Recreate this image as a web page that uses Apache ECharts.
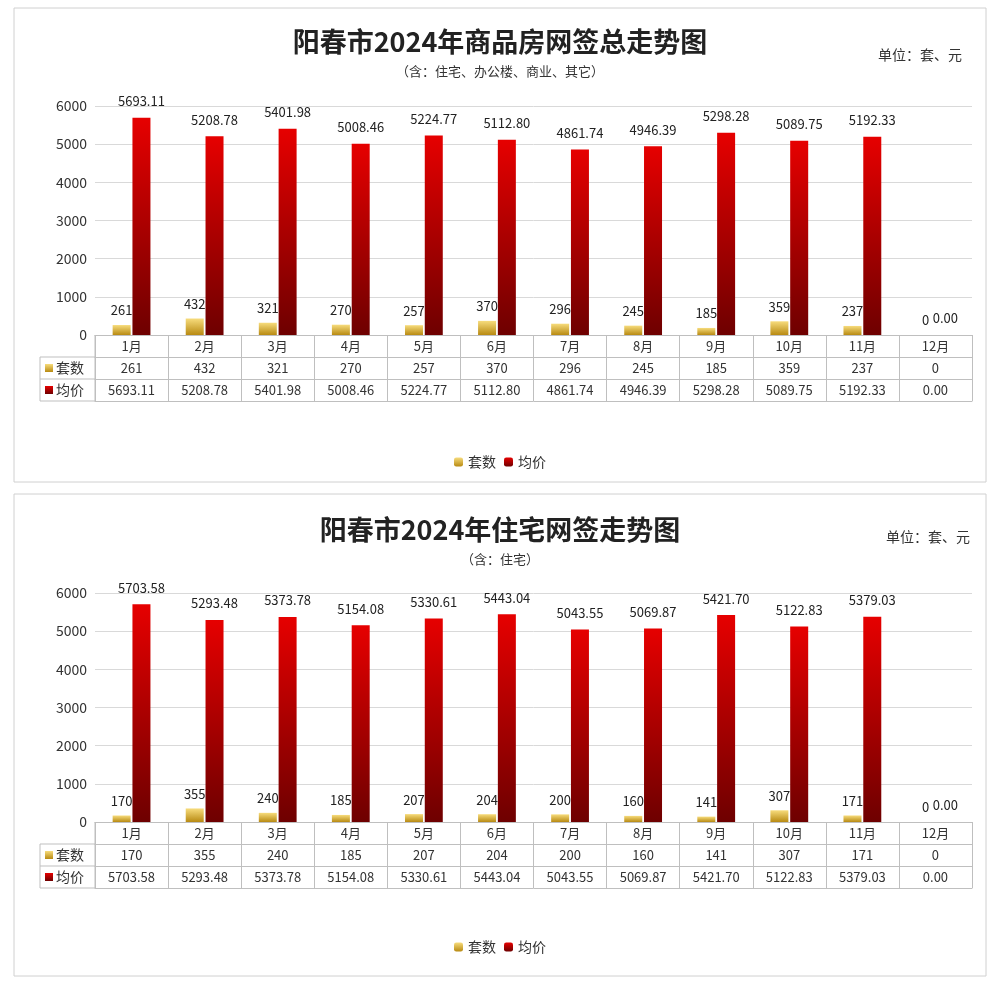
<!DOCTYPE html>
<html><head><meta charset="utf-8">
<script src="https://cdn.jsdelivr.net/npm/echarts@6/dist/echarts.min.js"></script>
<style>html,body{margin:0;padding:0;background:#fff}#c{width:1000px;height:982px}</style>
</head><body><div id="c"></div>
<script>
const months = ['1月','2月','3月','4月','5月','6月','7月','8月','9月','10月','11月','12月'];
const countAll = [261,432,321,270,257,370,296,245,185,359,237,0];
const priceAll = [5693.11,5208.78,5401.98,5008.46,5224.77,5112.80,4861.74,4946.39,5298.28,5089.75,5192.33,0];
const countRes = [170,355,240,185,207,204,200,160,141,307,171,0];
const priceRes = [5703.58,5293.48,5373.78,5154.08,5330.61,5443.04,5043.55,5069.87,5421.70,5122.83,5379.03,0];
const yTicks = [0,1000,2000,3000,4000,5000,6000];

const gold = {type:'linear',x:0,y:0,x2:0,y2:1,colorStops:[{offset:0,color:'#f7dc7c'},{offset:1,color:'#b88a12'}]};
const red = {type:'linear',x:0,y:0,x2:0,y2:1,colorStops:[{offset:0,color:'#e60000'},{offset:1,color:'#6e0000'}]};
const F = 'Microsoft YaHei, "Noto Sans CJK SC", sans-serif';
const tableColor = '#bfbfbf';

function tableAxes(gi, rows) {
  const axes = [];
  rows.forEach((data, i) => {
    axes.push({
      type:'category', gridIndex:gi, data:data, position:'bottom', offset:i*22,
      axisLine:{show:true,lineStyle:{color:tableColor}},
      axisTick:{show:true,length:22,lineStyle:{color:tableColor}},
      axisLabel:{show:true,color:'#333',fontSize:13,fontFamily:F,margin:5,interval:0},
      splitLine:{show:false}
    });
  });
  axes.push({
    type:'category', gridIndex:gi, data:months, position:'bottom', offset:rows.length*22,
    axisLine:{show:true,lineStyle:{color:tableColor}}, axisTick:{show:false}, axisLabel:{show:false}
  });
  return axes;
}
const fmt2 = a => a.map(v => v.toFixed(2));
const x1 = tableAxes(0, [months, countAll.map(String), fmt2(priceAll)]);
const x2 = tableAxes(1, [months, countRes.map(String), fmt2(priceRes)]);

function yAxis(gi){
  return {type:'value',gridIndex:gi,min:0,max:6000,interval:1000,
    axisLabel:{color:'#333',fontSize:14,fontFamily:F,formatter:v=>yTicks.includes(v)?String(v):''},
    axisLine:{show:false},axisTick:{show:false},
    splitLine:{lineStyle:{color:'#d9d9d9'}}};
}
function barSeries(name, data, xi, yi, color, isPrice){
  return {name, type:'bar', xAxisIndex:xi, yAxisIndex:yi, data, barWidth:18, barGap:'10%',
    itemStyle:{color},
    label:{show:true,position:'top',color:'#222',fontSize:13,fontFamily:F,distance:isPrice?10:8,
      formatter:p=>isPrice?p.value.toFixed(2):String(p.value)}};
}

const chart = echarts.init(document.getElementById('c'));
chart.setOption({
  animation:false,
  grid:[{left:95,right:28,top:106,height:229},{left:95,right:28,top:593,height:229}],
  xAxis:[...x1,...x2],
  yAxis:[yAxis(0),yAxis(1)],
  legend:[
    {top:450,left:'center',data:['套数','均价'],itemWidth:9,itemHeight:9,textStyle:{fontSize:14,fontFamily:F,color:'#333'}},
    {top:935,left:'center',data:['套数','均价'],itemWidth:9,itemHeight:9,textStyle:{fontSize:14,fontFamily:F,color:'#333'}}
  ],
  series:[
    barSeries('套数',countAll,0,0,gold,false),
    barSeries('均价',priceAll,0,0,red,true),
    barSeries('套数',countRes,4,1,gold,false),
    barSeries('均价',priceRes,4,1,red,true)
  ],
  graphic:[
    {type:'rect',shape:{x:14,y:8,width:972,height:474},style:{fill:'none',stroke:'#d0d0d0'}},
    {type:'rect',shape:{x:14,y:494,width:972,height:482},style:{fill:'none',stroke:'#d0d0d0'}},
    {type:'text',left:'center',top:28,style:{text:'阳春市2024年商品房网签总走势图',font:'bold 27px '+F,fill:'#222'}},
    {type:'text',left:'center',top:65,style:{text:'（含：住宅、办公楼、商业、其它）',font:'13px '+F,fill:'#333'}},
    {type:'text',right:38,top:48,style:{text:'单位：套、元',font:'14px '+F,fill:'#333'}},
    {type:'text',left:'center',top:516,style:{text:'阳春市2024年住宅网签走势图',font:'bold 27px '+F,fill:'#222'}},
    {type:'text',left:'center',top:553,style:{text:'（含：住宅）',font:'13px '+F,fill:'#333'}},
    {type:'text',right:30,top:530,style:{text:'单位：套、元',font:'14px '+F,fill:'#333'}},
    // table left column
    {type:'line',shape:{x1:40,y1:357,x2:95,y2:357},style:{stroke:tableColor}},
    {type:'line',shape:{x1:40,y1:379,x2:95,y2:379},style:{stroke:tableColor}},
    {type:'line',shape:{x1:40,y1:401,x2:95,y2:401},style:{stroke:tableColor}},
    {type:'line',shape:{x1:40,y1:357,x2:40,y2:401},style:{stroke:tableColor}},
    {type:'line',shape:{x1:95,y1:335,x2:95,y2:401},style:{stroke:tableColor}},
    {type:'rect',shape:{x:45,y:364,width:8,height:8},style:{fill:gold}},
    {type:'text',left:56,top:361,style:{text:'套数',font:'14px '+F,fill:'#333'}},
    {type:'rect',shape:{x:45,y:386,width:8,height:8},style:{fill:red}},
    {type:'text',left:56,top:383,style:{text:'均价',font:'14px '+F,fill:'#333'}},
    {type:'line',shape:{x1:40,y1:844,x2:95,y2:844},style:{stroke:tableColor}},
    {type:'line',shape:{x1:40,y1:866,x2:95,y2:866},style:{stroke:tableColor}},
    {type:'line',shape:{x1:40,y1:888,x2:95,y2:888},style:{stroke:tableColor}},
    {type:'line',shape:{x1:40,y1:844,x2:40,y2:888},style:{stroke:tableColor}},
    {type:'line',shape:{x1:95,y1:822,x2:95,y2:888},style:{stroke:tableColor}},
    {type:'rect',shape:{x:45,y:851,width:8,height:8},style:{fill:gold}},
    {type:'text',left:56,top:848,style:{text:'套数',font:'14px '+F,fill:'#333'}},
    {type:'rect',shape:{x:45,y:873,width:8,height:8},style:{fill:red}},
    {type:'text',left:56,top:870,style:{text:'均价',font:'14px '+F,fill:'#333'}}
  ]
});
</script></body></html>
